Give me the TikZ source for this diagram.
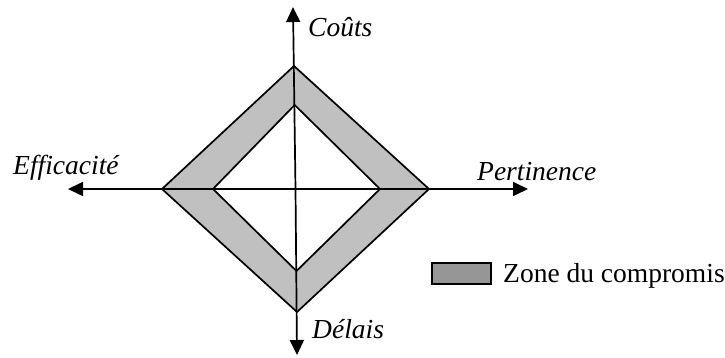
\documentclass[tikz,border=0pt]{standalone}
\usepackage{fontspec}
\setmainfont{Liberation Serif}
\usetikzlibrary{arrows.meta}
\definecolor{zonefill}{RGB}{192,192,192}
\definecolor{legfill}{RGB}{150,150,150}
\tikzset{
  axis/.style={line width=1.7pt,-{Triangle[length=15pt,width=14pt]}},
  edge/.style={line width=1.7pt,line join=miter},
  lab/.style={inner sep=0pt,anchor=base west,font=\fontsize{27.5}{33}\selectfont\itshape},
  legtext/.style={inner sep=0pt,anchor=base west,font=\fontsize{27.5}{33}\selectfont},
}
\begin{document}
\begin{tikzpicture}[x=1pt,y=-1pt]
\useasboundingbox (0,0) rectangle (725,358);
% centre and axis ends
\coordinate (C) at (295.5,189);
\coordinate (Ttip) at (293,7);
\coordinate (Btip) at (297,355);
\coordinate (Ltip) at (68,189);
\coordinate (Rtip) at (528,189);
% outer diamond
\coordinate (OT) at (294,66);
\coordinate (OL) at (162,189);
\coordinate (OB) at (297,312);
\coordinate (OR) at (429,189);
% inner diamond
\coordinate (IT) at (294.7,105);
\coordinate (IL) at (213,189);
\coordinate (IB) at (296.5,271);
\coordinate (IR) at (380,189);
\fill[zonefill,even odd rule] (OT)--(OR)--(OB)--(OL)--cycle (IT)--(IR)--(IB)--(IL)--cycle;
\draw[edge] (OT)--(OR)--(OB)--(OL)--cycle;
\draw[edge] (IT)--(IR)--(IB)--(IL)--cycle;
% axes
\draw[axis] (C) -- (Ttip);
\draw[axis] (C) -- (Btip);
\draw[axis] (C) -- (Ltip);
\draw[axis] (C) -- (Rtip);
% labels
\node[lab] (couts) at (308,37) {Coûts};
\node[lab] (eff) at (13,175) {Efficacité};
\node[lab] (pert) at (477,181) {Pertinence};
\node[lab] (del) at (312,338) {Délais};
% legend
\node[draw,line width=1.7pt,fill=legfill,minimum width=59pt,minimum height=21pt,inner sep=0pt,anchor=north west] (legbox) at (431,262) {};
\node[legtext] (legt) at (503,282) {Zone du compromis};
\end{tikzpicture}
\end{document}
